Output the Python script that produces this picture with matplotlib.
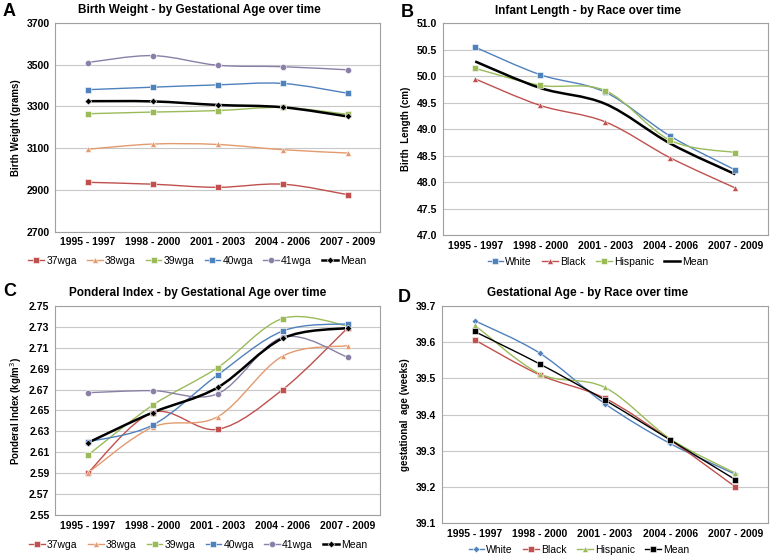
#!/usr/bin/env python
# -*- coding: utf-8 -*-
# Four panels: birth weight, length, ponderal index, gestational age over time
import matplotlib
matplotlib.use('Agg')

import numpy as np
import matplotlib.pyplot as plt
from matplotlib.path import Path
from matplotlib.patches import PathPatch
from matplotlib.lines import Line2D

plt.rcParams['font.family'] = ['Liberation Sans', 'DejaVu Sans']

periods = ['1995 - 1997', '1998 - 2000', '2001 - 2003', '2004 - 2006', '2007 - 2009']

# A - birth weight (grams) by gestational age
bw_37 = [2937, 2928, 2913, 2928, 2878]
bw_38 = [3095, 3120, 3118, 3093, 3077]
bw_39 = [3265, 3273, 3280, 3295, 3262]
bw_40 = [3380, 3392, 3403, 3410, 3363]
bw_41 = [3510, 3543, 3497, 3490, 3475]
bw_mean = [3325, 3324, 3307, 3296, 3252]

# B - birth length (cm) by race
bl_white = [50.55, 50.03, 49.70, 48.87, 48.23]
bl_black = [49.95, 49.45, 49.14, 48.46, 47.89]
bl_hisp = [50.15, 49.83, 49.73, 48.79, 48.56]
bl_mean = [50.28, 49.78, 49.48, 48.73, 48.15]

# C - ponderal index by gestational age
pi_37 = [2.590, 2.648, 2.632, 2.670, 2.729]
pi_38 = [2.590, 2.634, 2.644, 2.702, 2.712]
pi_39 = [2.607, 2.655, 2.691, 2.738, 2.731]
pi_40 = [2.620, 2.636, 2.684, 2.726, 2.733]
pi_41 = [2.667, 2.669, 2.666, 2.720, 2.701]
pi_mean = [2.619, 2.648, 2.672, 2.719, 2.729]

# D - gestational age (weeks) by race
ga_white = [39.66, 39.57, 39.43, 39.32, 39.235]
ga_black = [39.607, 39.51, 39.445, 39.33, 39.20]
ga_hisp = [39.648, 39.513, 39.475, 39.333, 39.238]
ga_mean = [39.63, 39.54, 39.44, 39.33, 39.22]

RED = '#C0504D'
ORANGE = '#E39A6E'
GREEN = '#9BBB59'
BLUE = '#4F81BD'
PURPLE = '#8A7FA6'
BLACK = '#000000'


def smooth_path(x, y):
    # Excel-like smoothed line: cubic bezier segments through the points
    pts = np.column_stack([x, y]).astype(float)
    n = len(pts)
    verts = [pts[0]]
    codes = [Path.MOVETO]
    for i in range(n - 1):
        p0 = pts[max(i - 1, 0)]
        p1 = pts[i]
        p2 = pts[i + 1]
        p3 = pts[min(i + 2, n - 1)]
        c1 = p1 + (p2 - p0) / 6.0
        c2 = p2 - (p3 - p1) / 6.0
        verts += [c1, c2, p2]
        codes += [Path.CURVE4] * 3
    return Path(verts, codes)


def draw_series(ax, y, color, marker, label, lw=1.0, ms=4.5, mfc=None):
    x = np.arange(len(y))
    ax.add_patch(PathPatch(smooth_path(x, y), fill=False, edgecolor=color,
                           lw=lw, zorder=3))
    if marker is not None:
        ax.plot(x, y, linestyle='none', marker=marker, ms=ms, color=color,
                mfc=mfc if mfc else color, mec='white', mew=0.4, zorder=4)
    return Line2D([], [], color=color, lw=lw, marker=marker, ms=ms,
                  mfc=mfc if mfc else color, mec='white', mew=0.4, label=label)


def setup(ax, ylim, step, fmt, ylabel, title, letter, lxy, tx):
    ax.set_xlim(-0.5, 4.5)
    ax.set_ylim(*ylim)
    ticks = np.arange(ylim[0], ylim[1] + step / 2, step)
    ax.set_yticks(ticks)
    ax.set_yticklabels([fmt.format(t) for t in ticks], fontsize=7.5, fontweight='bold')
    ax.set_xticks(range(5))
    ax.set_xticklabels(periods, fontsize=7.5, fontweight='bold')
    ax.tick_params(length=0, pad=4)
    ax.grid(True, axis='y', color='#C8C8C8', lw=0.8)
    ax.set_axisbelow(True)
    for s in ax.spines.values():
        s.set_color('#A0A0A0')
        s.set_linewidth(0.8)
    ax.set_ylabel(ylabel, fontsize=7, fontweight='bold', labelpad=4)
    ax.set_title(title, fontsize=8.5, fontweight='bold', pad=7, x=tx)
    ax.text(lxy[0], lxy[1], letter, transform=ax.transAxes, fontsize=13,
            fontweight='bold', ha='left', va='center')


def legend(ax, handles, x, y):
    ax.legend(handles=handles, loc='center', bbox_to_anchor=(x, y),
              ncol=len(handles), frameon=False, fontsize=7.5,
              handlelength=1.5, handletextpad=0.2, columnspacing=1.0,
              borderpad=0.1)


fig = plt.figure(figsize=(7.78, 5.56), dpi=100)

# Panel A
axA = fig.add_axes([0.0707, 0.583, 0.418, 0.376])
setup(axA, (2700, 3700), 200, '{:.0f}', 'Birth Weight (grams)',
      'Birth Weight - by Gestational Age over time', 'A', (-0.16, 1.053), 0.443)
hA = [draw_series(axA, bw_37, RED, 's', '37wga'),
      draw_series(axA, bw_38, ORANGE, '^', '38wga'),
      draw_series(axA, bw_39, GREEN, 's', '39wga'),
      draw_series(axA, bw_40, BLUE, 's', '40wga'),
      draw_series(axA, bw_41, PURPLE, 'o', '41wga'),
      draw_series(axA, bw_mean, BLACK, 'D', 'Mean', lw=1.8, ms=3.5)]
legend(axA, hA, 0.437, -0.139)

# Panel B
axB = fig.add_axes([0.569, 0.577, 0.418, 0.381])
setup(axB, (47.0, 51.0), 0.5, '{:.1f}', 'Birth  Length (cm)',
      'Infant Length - by Race over time', 'B', (-0.13, 1.052), 0.446)
hB = [draw_series(axB, bl_white, BLUE, 's', 'White'),
      draw_series(axB, bl_black, RED, '^', 'Black'),
      draw_series(axB, bl_hisp, GREEN, 's', 'Hispanic'),
      draw_series(axB, bl_mean, BLACK, None, 'Mean', lw=1.8)]
legend(axB, hB, 0.477, -0.127)

# Panel C
axC = fig.add_axes([0.0707, 0.0737, 0.418, 0.376])
setup(axC, (2.55, 2.75), 0.02, '{:.2f}', 'Ponderal Index (kg/m$^3$)',
      'Ponderal Index - by Gestational Age over time', 'C', (-0.16, 1.07), 0.44)
hC = [draw_series(axC, pi_37, RED, 's', '37wga'),
      draw_series(axC, pi_38, ORANGE, '^', '38wga'),
      draw_series(axC, pi_39, GREEN, 's', '39wga'),
      draw_series(axC, pi_40, BLUE, 's', '40wga'),
      draw_series(axC, pi_41, PURPLE, 'o', '41wga'),
      draw_series(axC, pi_mean, BLACK, 'D', 'Mean', lw=1.8, ms=3.5)]
legend(axC, hC, 0.44, -0.144)

# Panel D
axD = fig.add_axes([0.568, 0.0594, 0.419, 0.390])
setup(axD, (39.1, 39.7), 0.1, '{:.1f}', 'gestational  age (weeks)',
      'Gestational Age - by Race over time', 'D', (-0.135, 1.04), 0.448)
hD = [draw_series(axD, ga_white, BLUE, 'D', 'White', ms=3.5),
      draw_series(axD, ga_black, RED, 's', 'Black'),
      draw_series(axD, ga_hisp, GREEN, '^', 'Hispanic'),
      draw_series(axD, ga_mean, BLACK, 's', 'Mean')]
legend(axD, hD, 0.42, -0.124)

plt.savefig('out.png', dpi=100)
